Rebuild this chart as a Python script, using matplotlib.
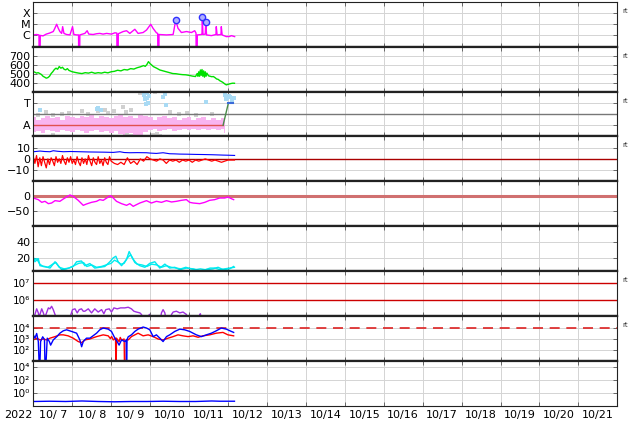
import numpy as np
import matplotlib
matplotlib.use('Agg')
import matplotlib.pyplot as plt
from matplotlib.ticker import FixedLocator, NullLocator, NullFormatter

# time axis: hours from 2022-10-07 00UT, 15 days shown
days = list(range(7, 22))
day_labels = ['10/%2d' % d for d in days]

# X-ray flux (W/m2)
xray_t = [0, 2, 3.5, 3.6, 4.2, 4.3, 6, 8, 10, 12.3, 13.3, 14.4, 15.4, 16.4, 17.5, 18.1, 18.9, 20.5,
          22.6, 24.2, 25.0, 26.7, 27.9, 28.0, 28.6, 28.7, 31.8, 33.2, 34.2, 36.9, 39, 41, 43, 45.2,
          48.2, 50.3, 51.5, 51.6, 52.3, 52.4, 55.4, 57.5, 59.5, 62.6, 64.6, 67.7, 69.8, 72.4, 73.8,
          75.9, 76.7, 76.8, 77.4, 77.5, 82.1, 86.2, 87.8, 89.2, 91.3, 94.4, 97.5, 99.5, 100.3, 100.4,
          101.0, 101.1, 103.6, 104.0, 104.2, 104.6, 106.0, 106.3, 106.8, 109.8, 112.6, 112.8, 113.3,
          115.7, 115.9, 116.4, 119, 121, 122.1, 124.1]
xray_f = [1.1e-6, 1.2e-6, 1.1e-6, 1e-8, 1e-8, 1.0e-6, 9e-7, 1.3e-6, 1.6e-6, 2.2e-6, 4.3e-6, 9.8e-6,
          4.3e-6, 2.2e-6, 1.5e-6, 6e-6, 1.5e-6, 1.2e-6, 1.1e-6, 6e-6, 1.2e-6, 1.1e-6, 1.1e-6, 1e-8,
          1e-8, 1.1e-6, 1.5e-6, 2.6e-6, 1.3e-6, 1.2e-6, 1.4e-6, 1.5e-6, 1.3e-6, 1.5e-6, 1.3e-6,
          1.7e-6, 1.6e-6, 1e-8, 1e-8, 1.4e-6, 2.2e-6, 2.6e-6, 1.5e-6, 3.5e-6, 1.5e-6, 1.8e-6, 3e-6,
          9.8e-6, 4.3e-6, 1.7e-6, 1.5e-6, 1e-8, 1e-8, 1.2e-6, 1.1e-6, 1.2e-6, 2.3e-5, 4.3e-6, 1.8e-6,
          2.2e-6, 1.8e-6, 2.6e-6, 1.6e-6, 1e-8, 1e-8, 1.1e-6, 1.2e-6, 1.3e-6, 4.7e-5, 1.2e-6, 1.3e-6,
          1.66e-5, 1.1e-6, 9.5e-7, 1.2e-6, 6e-6, 1.1e-6, 1.2e-6, 6e-6, 1.1e-6, 7.8e-7, 8e-7, 9.5e-7, 7.8e-7]
flare_t = [87.8, 104.2, 106.3]
flare_f = [2.3e-5, 4.7e-5, 1.66e-5]

# solar wind speed (km/s)
speed_t = [0, 1, 2, 3, 4, 5, 6, 7, 8, 9, 10, 11, 12, 13, 14, 15, 16, 17, 18, 19, 20, 21, 22, 24, 26,
           28, 30, 32, 34, 36, 38, 40, 42, 44, 46, 48, 50, 52, 54, 56, 58, 60, 62, 64, 66, 68, 69,
           70, 71, 72, 73, 74, 76, 78, 80, 82, 84, 86, 88, 90, 92, 94, 96, 98, 100, 101, 101.5, 102,
           102.5, 103, 103.5, 104, 104.5, 105, 105.5, 106, 106.5, 107, 108, 109, 110, 111, 112, 113,
           114, 115, 116, 117, 118, 119, 120, 121, 122, 123, 124]
speed_v = [522, 515, 505, 510, 500, 490, 470, 460, 449, 455, 470, 500, 520, 545, 560, 548, 578, 560,
           570, 548, 541, 555, 535, 520, 512, 505, 500, 510, 505, 515, 503, 510, 505, 515, 508, 520,
           525, 537, 530, 545, 540, 555, 550, 565, 575, 589, 580, 600, 633, 610, 595, 578, 560, 540,
           530, 520, 510, 500, 498, 492, 488, 486, 480, 472, 467, 500, 470, 520, 470, 540, 480, 545,
           470, 530, 460, 520, 470, 505, 475, 470, 465, 467, 455, 440, 435, 420, 411, 400, 385, 374,
           380, 385, 390, 393, 392]

# IMF sector (A=1, T=3): pink envelope, grey / light-blue points, sector line
sect_t = [0, 3, 6, 9, 12, 15, 18, 21, 24, 27, 30, 33, 36, 39, 42, 45, 48, 51, 54, 57, 60, 63, 66, 69,
          72, 75, 78, 81, 84, 87, 90, 93, 96, 99, 102, 105, 108, 111, 114, 117, 118]
sect_hi = [1.7, 1.5, 1.6, 1.8, 1.6, 1.7, 1.5, 1.8, 1.7, 1.6, 1.8, 1.7, 1.9, 1.6, 1.8, 1.7, 1.6, 1.8,
           1.9, 1.7, 1.8, 1.6, 1.9, 1.8, 1.7, 1.5, 1.7, 1.8, 1.6, 1.7, 1.5, 1.6, 1.7, 1.5, 1.6, 1.7,
           1.5, 1.6, 1.5, 1.6, 1.4]
sect_lo = [0.4, 0.5, 0.3, 0.6, 0.5, 0.4, 0.6, 0.5, 0.4, 0.6, 0.5, 0.3, 0.5, 0.6, 0.4, 0.5, 0.3, 0.5,
           0.2, 0.1, 0.3, 0.0, 0.1, 0.4, 0.6, 0.7, 0.5, 0.6, 0.7, 0.5, 0.6, 0.7, 0.6, 0.7, 0.6, 0.7,
           0.6, 0.7, 0.6, 0.7, 0.3]
grey_t = [3, 8, 12, 18, 22, 30, 34, 40, 44, 46, 50, 55, 57, 60, 12, 58, 60, 74, 76, 78, 84, 90, 95,
          100, 110, 66, 70, 75]
grey_v = [1.95, 2.2, 1.9, 2.0, 2.1, 2.3, 2.0, 2.25, 2.4, 2.05, 2.3, 2.6, 2.15, 2.4, 0.15, 0.1, 0.05,
          0.1, 0.2, 0.05, 2.2, 2.0, 2.1, 1.95, 2.0, 3.9, 3.9, 3.95]
lblue_t = [4.1, 39, 40, 42, 68.5, 69, 69.8, 70.3, 70.8, 71.5, 69.5, 80, 81, 82.1, 106.7, 118, 118.5,
           119.5, 120.5, 121.5, 122.5, 123.5]
lblue_v = [2.4, 2.45, 2.5, 2.35, 3.7, 3.3, 3.45, 3.9, 3.0, 3.6, 2.9, 3.55, 3.8, 2.8, 3.1, 3.7, 3.3,
           3.4, 3.6, 3.5, 3.2, 3.4]

# IMF Bt and Bz (nT)
bt_t = [0, 4.1, 7, 10.3, 12.3, 15, 18.5, 23, 28.7, 34, 39, 44, 49.3, 53.4, 56, 59.5, 64, 69.8, 72,
        75.9, 80, 84.1, 87, 90.3, 95, 100.5, 105, 110.8, 117, 120, 124.1]
bt_v = [6.4, 7.0, 6.6, 6.4, 7.3, 6.8, 6.4, 6.6, 6.4, 6.2, 6.1, 6.0, 5.8, 6.4, 5.7, 5.5, 5.6, 5.5,
        5.2, 4.9, 5.5, 4.6, 4.5, 4.3, 4.2, 4.0, 3.9, 3.7, 3.4, 3.3, 3.1]
bz_t = [0, 1, 2, 3, 4, 5, 6, 7, 8, 9, 10, 11, 12, 13, 14, 15, 16, 17, 18, 19, 20, 21, 22, 23, 24, 25,
        26, 27, 28, 29, 30, 31, 32, 33, 34, 35, 36, 37, 38, 39, 40, 41, 42, 43, 44, 45, 46, 47, 48,
        50, 52, 54, 56, 58, 60, 62, 64, 66, 68, 70, 72, 74, 76, 78, 80, 82, 84, 86, 88, 90, 92, 94,
        96, 98, 100, 102, 104, 106, 108, 110, 112, 114, 116, 118, 120, 122, 124]
bz_v = [2, -4, 3, -7, 1, -6, 2, -3, -8, 0, -5, 1, -2, -6, 2, -3, 0, -4, 3, -2, -5, 1, -3, 2, -4, -1,
        -5, 2, -3, -6, 1, -4, 0, -5, 3, -2, -6, 1, -3, -5, 2, -4, -1, -6, 1, -3, -5, 2, -2, -4, -5,
        -3, -5, 1, -4, -2, -5, 0, -2, 2, 0, -1, -2, 0, -1, -4, -1, -2, -1, -3, -1, -2, -1, -3, -1,
        -2, -1, 0, -1, -2, -1, -2, -3, -2, -1, -1, -1]

# Dst (nT)
dst_t = [0, 3.1, 5.2, 7.2, 9.3, 11.3, 13.4, 16.4, 18.5, 20.5, 22.6, 24.6, 27.7, 30.8, 32.8, 35.9, 39,
         41, 43.1, 46.2, 47.6, 49.3, 51.3, 54.4, 57.5, 59.5, 61.6, 63.6, 65.7, 69.8, 72.8, 75.9, 79,
         82.1, 85.2, 88.2, 91.3, 94.4, 96.4, 98.5, 102.6, 105.7, 108.7, 111.8, 114.9, 118, 120,
         122.1, 123.5]
dst_v = [-5.5, -11, -20, -16.6, -24.4, -22.2, -14.4, -16.6, -8.8, -2.2, 4.5, 0, -13.3, -30, -25.5,
         -20, -16.6, -11, -13.3, -2.2, 2.3, -5.5, -16.6, -24.4, -30, -24.4, -33.3, -27.7, -22.2,
         -14.4, -22.2, -16.6, -20, -14.4, -18.8, -16.6, -13.3, -11, -20, -22.2, -24.4, -20, -13.3,
         -11, -5.5, -5.5, -2.2, -7.7, -11]

# cyan panel (two traces)
cyan1_t = [0, 1, 3.1, 4.1, 7.2, 10.3, 13.4, 15.4, 17.5, 20.5, 24.6, 26.7, 29.7, 31.8, 34.9, 37.9,
           41, 44.1, 47.2, 49.3, 50.9, 52.3, 54.4, 57.5, 59.1, 60.5, 62.6, 65.7, 68.8, 71.8, 74.9,
           78, 81.1, 84.1, 87.2, 90.3, 94.4, 98.5, 102.6, 106.7, 110.8, 113.9, 117, 121, 123.5]
cyan1_v = [21, 15, 19, 10, 9, 7, 15, 10, 5, 6, 9, 15, 16, 10, 12.7, 7, 8, 9, 15, 20, 22, 15, 10,
           18, 28, 22, 14, 10, 8, 13, 15, 7, 12, 7, 8, 5, 7, 6, 4, 5, 6, 8, 5, 6, 9]
cyan2_t = [0, 2, 4, 6, 9, 12, 14, 16, 19, 22, 25, 28, 31, 33, 36, 39, 42, 45, 48, 50, 52, 54, 56,
           58, 60, 62, 64, 67, 70, 73, 76, 79, 82, 85, 88, 91, 94, 97, 100, 103, 106, 109, 112,
           115, 118, 121, 124]
cyan2_v = [17, 19, 12, 9, 8, 12, 14, 8, 6, 7, 10, 13, 14, 9, 11, 8, 9, 11, 13, 17, 15, 12, 13, 20,
           24, 17, 12, 11, 9, 12, 11, 8, 10, 8, 7, 6, 8, 6, 5, 6, 5, 7, 7, 5, 6, 7, 8]

# proton / electron flux panel
elec_t = [0.5, 1.0, 2.1, 3.1, 3.6, 4.1, 5.2, 6.2, 7.2, 7.8, 9.3, 10.3, 11.3, 12.3, 13.4, 14, 14.5,
          22.8, 23.2, 24.2, 25.7, 27.1, 28.3, 29.7, 30.8, 31.8, 33.9, 35.9, 37.9, 40, 42.1, 43.5,
          44.7, 46.8, 48.2, 49.7, 51.7, 53.8, 56.4, 58.5, 60.5, 62, 63.6, 65.7, 66.7, 67.5, 68,
          71.5, 72, 72.5, 78.5, 79, 80, 81.1, 81.6, 82, 84.8, 85.2, 86.2, 88.2, 90.3, 92.3, 94.4,
          95, 95.5, 102.2, 102.6, 103, 103.4]
elec_v = [8e4, 1.26e5, 2.8e5, 1.58e5, 8e4, 1.26e5, 2.8e5, 1.58e5, 8e4, 1.26e5, 3.2e5, 2.8e5, 4.0e5,
          2.5e5, 1.26e5, 8e4, np.nan, 8e4, 1.26e5, 2.5e5, 2.8e5, 1.58e5, 2.5e5, 2.8e5, 2.0e5, 2.0e5,
          2.8e5, 1.58e5, 2.8e5, 1.78e5, 2.5e5, 1.4e5, 2.5e5, 2.8e5, 1.78e5, 3.2e5, 2.8e5, 3.2e5,
          3.2e5, 3.5e5, 2.8e5, 2.0e5, 1.78e5, 1.58e5, 1.26e5, 8e4, np.nan, 1.26e5, 1.1e5, np.nan,
          8e4, 1.58e5, 2.5e5, 1.58e5, 8e4, np.nan, 8e4, 1.26e5, 1.78e5, 2.0e5, 1.58e5, 1.78e5,
          1.26e5, 8e4, np.nan, 8e4, 1.26e5, 1.4e5, 8e4]

# electron flux, two satellites
gb_t = [0, 1.0, 2.1, 3.1, 3.6, 4.1, 4.5, 5.8, 6.9, 7.2, 7.8, 8.6, 9.9, 10.7, 12.3, 14.4, 16.4, 18.5,
        20.5, 23.6, 26.7, 28.7, 29.8, 30.8, 32.8, 34.9, 39, 41, 43.1, 46.2, 48.2, 50.3, 51.7, 52.9,
        54.4, 56.4, 57.3, 57.5, 57.8, 58.5, 60.5, 62.6, 64.6, 67.7, 69.8, 71.8, 73.9, 75.9, 78, 80,
        82.1, 84.1, 87.2, 90.3, 93.3, 96.4, 100.5, 103.6, 106.7, 109.8, 112.8, 115.9, 119, 122.1,
        123.5]
gb_v = [2400, 1200, 3200, 590, 5, 5, 590, 1600, 900, 5, 5, 1200, 590, 280, 830, 1600, 3400, 5600,
        6900, 4900, 3400, 830, 200, 590, 1200, 1200, 3400, 6900, 10000, 7900, 4900, 1200, 590, 280,
        830, 590, 800, 5, 900, 1600, 2400, 4900, 7900, 12300, 10000, 6900, 1660, 2400, 1200, 590,
        1660, 2400, 4900, 7900, 6900, 4900, 2400, 1660, 2400, 3400, 5600, 10000, 7900, 4900, 4000]
gr_t = [0, 2.1, 4.1, 6.2, 8.2, 10.3, 13.4, 16.4, 18.5, 21.5, 24.6, 27.7, 29.8, 31.8, 34.9, 39,
        43.1, 46.2, 47.5, 48.3, 49.3, 50.7, 50.9, 51.1, 51.3, 52.9, 53.6, 54.4, 56.0, 56.2, 57.2,
        57.4, 58.5, 60.5, 62.6, 64.6, 67.7, 70.8, 73.9, 77, 80, 83.1, 86.2, 89.2, 92.3, 95.4, 98.5,
        101.6, 104.6, 108.7, 112.8, 116.9, 120, 123.5]
gr_v = [830, 1200, 830, 1020, 830, 1200, 1660, 2400, 2400, 1950, 1200, 590, 470, 830, 1020, 1660,
        2400, 1950, 1100, 1700, 830, 1200, 5, 5, 1200, 575, 1400, 830, 1000, 5, 5, 900, 830, 1660,
        2400, 3400, 1950, 2400, 1660, 1000, 830, 1200, 1660, 2400, 1950, 1660, 1950, 1450, 1950,
        2400, 3400, 4000, 2400, 1950]

# bottom panel
low_t = [0, 10, 20, 30, 40, 50, 60, 70, 80, 90, 100, 110, 115, 124]
low_v = [0.05, 0.055, 0.05, 0.06, 0.05, 0.045, 0.05, 0.05, 0.055, 0.05, 0.05, 0.06, 0.055, 0.055]

grid_c = '#d4d4d4'

fig, axes = plt.subplots(9, 1, figsize=(6.34, 4.24), dpi=100)
fig.subplots_adjust(left=0.0525, right=0.9737, top=0.996, bottom=0.0425, hspace=0)

for i, ax in enumerate(axes):
    ax.set_xlim(0, 360)
    ax.xaxis.set_major_locator(FixedLocator(range(0, 361, 24)))
    ax.xaxis.set_minor_locator(FixedLocator(range(12, 360, 24)))
    ax.yaxis.set_minor_locator(NullLocator())
    ax.grid(True, which='major', color=grid_c, lw=0.7)
    ax.set_axisbelow(True)
    ax.tick_params(axis='both', which='major', direction='in', length=3, width=0.6,
                   top=True, right=True, labelsize=8, color='#555555', pad=2)
    ax.tick_params(axis='x', which='minor', length=0)
    ax.tick_params(axis='x', labelbottom=False)
    for s in ('top', 'bottom'):
        ax.spines[s].set_linewidth(1.6)
        ax.spines[s].set_color('#222222')
    for s in ('left', 'right'):
        ax.spines[s].set_linewidth(0.8)
        ax.spines[s].set_color('#222222')
axes[0].spines['top'].set_linewidth(0.8)
axes[-1].spines['bottom'].set_linewidth(0.8)

# 1: X-ray
ax = axes[0]
ax.set_yscale('log')
ax.set_ylim(1e-7, 1e-3)
ax.plot(xray_t, xray_f, color='#ff00ff', lw=1)
ax.plot(flare_t, flare_f, 'o', ms=4.5, mfc='#b0b0ff', mec='#3030ff', mew=1)
ax.set_yticks([1e-6, 1e-5, 1e-4], ['C', 'M', 'X'])
ax.yaxis.set_minor_locator(NullLocator())

# 2: speed
ax = axes[1]
ax.set_ylim(300, 800)
ax.plot(speed_t, speed_v, color='#00e000', lw=1)
ax.set_yticks([400, 500, 600, 700])

# 3: sector
ax = axes[2]
ax.set_ylim(0, 4)
ax.fill_between(sect_t, sect_lo, sect_hi, step='mid', color='#f9b4f0', lw=0)
ax.scatter(grey_t, grey_v, s=5, marker='s', color='#d0d0d0', lw=0)
ax.scatter(lblue_t, lblue_v, s=6, marker='s', color='#a8daf4', lw=0)
ax.axhline(2, color='#777777', lw=1)
ax.plot([0, 117], [1, 1], color='#e05050', lw=1)
ax.plot([117, 120.3], [1, 3], color='#4a8a4a', lw=1)
ax.plot([120.3, 123], [3, 3], color='#3a6ad8', lw=1.5)
ax.set_yticks([1, 3], ['A', 'T'])

# 4: Bt/Bz
ax = axes[3]
ax.set_ylim(-20, 20)
ax.axhline(0, color='#aa0000', lw=1)
ax.plot(bz_t, bz_v, color='#ff0000', lw=0.9)
ax.plot(bt_t, bt_v, color='#0000ff', lw=0.8)
ax.set_yticks([-10, 0, 10])

# 5: Dst
ax = axes[4]
ax.set_ylim(-100, 50)
ax.axhline(0, color='#d07070', lw=2.2)
ax.plot(dst_t, dst_v, color='#ff00ff', lw=1)
ax.set_yticks([-50, 0])

# 6: cyan
ax = axes[5]
ax.set_ylim(3, 60)
ax.plot(cyan2_t, cyan2_v, color='#00f0f0', lw=1)
ax.plot(cyan1_t, cyan1_v, color='#00e8f0', lw=1)
ax.set_yticks([20, 40])

# 7: purple flux
ax = axes[6]
ax.set_yscale('log')
ax.set_ylim(1e5, 5.6e7)
ax.axhline(1e6, color='#cc0000', lw=1)
ax.axhline(1e7, color='#cc0000', lw=1)
ax.plot(elec_t, elec_v, color='#a030e0', lw=1)
ax.set_yticks([1e6, 1e7], ['10⁶', '10⁷'])
ax.yaxis.set_minor_locator(NullLocator())

# 8: two satellites
ax = axes[7]
ax.set_yscale('log')
ax.set_ylim(10, 1.2e5)
ax.axhline(1e4, color='#dd2222', lw=1.2, dashes=(6, 4))
ax.plot(gr_t, gr_v, color='#ff0000', lw=1)
ax.plot(gb_t, gb_v, color='#0000ff', lw=1)
ax.set_yticks([1e2, 1e3, 1e4], ['10²', '10³', '10⁴'])
ax.yaxis.set_minor_locator(NullLocator())

# 9: bottom
ax = axes[8]
ax.set_yscale('log')
ax.set_ylim(1e-2, 1e5)
ax.plot(low_t, low_v, color='#0000ff', lw=1)
ax.set_yticks([1e0, 1e2, 1e4], ['10⁰', '10²', '10⁴'])
ax.yaxis.set_minor_locator(NullLocator())
ax.xaxis.set_major_formatter(NullFormatter())
ax.set_xticks(range(12, 360, 24), day_labels, minor=True)
ax.tick_params(axis='x', which='both', labelbottom=True, labelsize=8, pad=3)

for i in (6, 7, 8):
    for lab in axes[i].get_yticklabels():
        lab.set_fontsize(7.5)

for i in (0, 1, 2, 3, 6, 7):
    axes[i].text(1.008, 0.8, 'rt', transform=axes[i].transAxes, fontsize=5,
                 va='center', ha='left', color='#333333')

fig.text(18 / 634, 1 - 415 / 424, '2022', fontsize=8, ha='center', va='center')

fig.savefig('out.png', dpi=100)
